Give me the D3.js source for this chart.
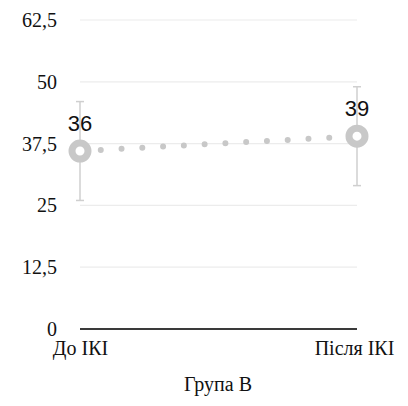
<!DOCTYPE html>
<html><head><meta charset="utf-8">
<script src="https://cdn.jsdelivr.net/npm/d3@7"></script>
<style>
body{margin:0;background:#fff}
svg text{font-family:'Liberation Serif' !important;font-size:20px}
svg text.val{font-family:'Liberation Sans' !important;font-size:22px}
</style>
</head><body><svg id="c" width="408" height="406"></svg>
<script>
const categories = ["До ІКІ", "Після ІКІ"];
const values = [36, 39];
const errors = [10, 10];
const yTicks = [0, 12.5, 25, 37.5, 50, 62.5];
const tickLabels = ["0", "12,5", "25", "37,5", "50", "62,5"];
const title = "Група В";

const svg = d3.select("#c");
const x = d3.scalePoint().domain(categories).range([80, 357]);
const y = d3.scaleLinear().domain([0, 62.5]).range([329, 20]);

// gridlines
svg.append("g").selectAll("line").data(yTicks.filter(d => d > 0)).join("line")
  .attr("x1", 80).attr("x2", 357)
  .attr("y1", d => y(d)).attr("y2", d => y(d))
  .attr("stroke", "#ececec").attr("stroke-width", 1.2);

// y axis
const yAxis = d3.axisLeft(y).tickValues(yTicks).tickFormat((d, i) => tickLabels[i]).tickSize(0).tickPadding(0);
const gy = svg.append("g").attr("transform", "translate(57,0)").call(yAxis);
gy.attr("font-family", null).attr("font-size", null);
gy.select(".domain").remove();
gy.selectAll("text").attr("font-family", "Liberation Serif").attr("fill", "#111").attr("dy", "0.32em");

// zero line
svg.append("line").attr("x1", 80).attr("x2", 357).attr("y1", y(0)).attr("y2", y(0))
  .attr("stroke", "#3a3a3a").attr("stroke-width", 2);

// x axis labels
const xAxis = d3.axisBottom(x).tickSize(0).tickPadding(0);
const gx = svg.append("g").attr("transform", "translate(0,341)").call(xAxis);
gx.attr("font-family", null).attr("font-size", null);
gx.select(".domain").remove();
gx.selectAll("text").attr("font-family", "Liberation Serif").attr("fill", "#111").attr("dy", "0.71em");
gx.selectAll(".tick").filter((d, i) => i === 1).select("text").attr("dx", "-3");

// title
svg.append("text").attr("x", 218).attr("y", 391).attr("text-anchor", "middle")
  .attr("font-family", "Liberation Serif").attr("fill", "#111").text(title);

// error bars
const eb = svg.append("g").attr("stroke", "#cfcfcf").attr("stroke-width", 1.5);
categories.forEach((c, i) => {
  eb.append("line").attr("x1", x(c)).attr("x2", x(c)).attr("y1", y(values[i] + errors[i])).attr("y2", y(values[i] - errors[i]));
  [values[i] + errors[i], values[i] - errors[i]].forEach(v => {
    eb.append("line").attr("x1", x(c) - 4).attr("x2", x(c) + 4).attr("y1", y(v)).attr("y2", y(v));
  });
});

// dotted line
const line = d3.line().x((d, i) => x(categories[i])).y(d => y(d));
svg.append("path").datum(values).attr("d", line).attr("fill", "none")
  .attr("stroke", "#c8c8c8").attr("stroke-width", 6).attr("stroke-linecap", "round")
  .attr("stroke-dasharray", "0 20.8").attr("stroke-dashoffset", -20.8);

// markers
svg.append("g").selectAll("circle").data(values).join("circle")
  .attr("cx", (d, i) => x(categories[i])).attr("cy", d => y(d)).attr("r", 8)
  .attr("fill", "#fff").attr("stroke", "#c8c8c8").attr("stroke-width", 7);

// value labels
svg.append("g").selectAll("text").data(values).join("text").attr("class", "val")
  .attr("x", (d, i) => x(categories[i])).attr("y", d => y(d) - 20)
  .attr("text-anchor", "middle").attr("fill", "#111").text(d => d);
</script></body></html>
